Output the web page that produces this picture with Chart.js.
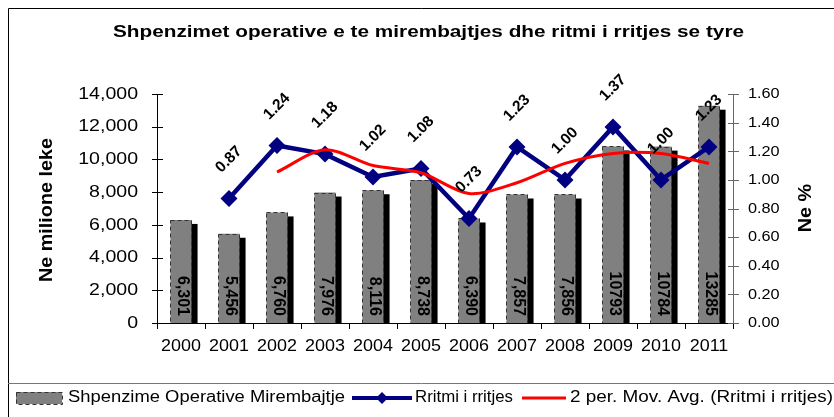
<!DOCTYPE html>
<html>
<head>
<meta charset="utf-8">
<script src="https://cdn.jsdelivr.net/npm/chart.js@4.4.1/dist/chart.umd.min.js"></script>
<style>
  html, body { margin: 0; padding: 0; background: #fff; }
  #wrap { width: 834px; height: 417px; position: relative; }
</style>
</head>
<body>
<div id="wrap"><canvas id="chart" width="834" height="417"></canvas></div>
<script>
(function () {
    "use strict";

    // --- data ---
    const YEARS = ["2000", "2001", "2002", "2003", "2004", "2005", "2006", "2007", "2008", "2009", "2010", "2011"];
    const SPENDING = [6301, 5456, 6760, 7976, 8116, 8738, 6390, 7857, 7856, 10793, 10784, 13285];
    const SPENDING_LABELS = ["6,301", "5,456", "6,760", "7,976", "8,116", "8,738", "6,390", "7,857", "7,856", "10793", "10784", "13285"];
    const GROWTH = [null, 0.87, 1.24, 1.18, 1.02, 1.08, 0.73, 1.23, 1.00, 1.37, 1.00, 1.23];
    const MOV_AVG = [null, null, 1.055, 1.21, 1.10, 1.05, 0.905, 0.98, 1.115, 1.185, 1.185, 1.115];
    const LEFT_MAX = 14000, LEFT_STEP = 2000;
    const RIGHT_MAX = 1.6, RIGHT_STEP = 0.2;

    const TITLE = "Shpenzimet operative e te mirembajtjes dhe ritmi i rritjes se tyre";
    const LEGEND = ["Shpenzime Operative Mirembajtje", "Rritmi i rritjes", "2 per. Mov. Avg. (Rritmi i rritjes)"];

    const FONT = "'Liberation Sans', Arial, sans-serif";
    const NAVY = "#000080";
    const BAR_GRAY = "#808080";

    // text with a horizontal stretch (the reference picture is a bit wide)
    function text(ctx, str, x, y, opts) {
        const o = Object.assign({ size: 15, bold: false, align: "center", sx: 1, width: 0, rot: 0 }, opts);
        ctx.save();
        ctx.font = (o.bold ? "bold " : "") + o.size + "px " + FONT;
        ctx.textAlign = o.align;
        ctx.textBaseline = "middle";
        ctx.fillStyle = "#000";
        let sx = o.sx;
        if (o.width) { sx = o.width / ctx.measureText(str).width; }
        ctx.translate(x, y);
        if (o.rot) { ctx.rotate(o.rot); }
        ctx.scale(sx, 1);
        ctx.fillText(str, 0, 0);
        ctx.restore();
    }

    // black "3d" shadow behind each bar
    const shadowPlugin = {
        id: "shadow",
        beforeDatasetsDraw(chart) {
            const meta = chart.getDatasetMeta(2);
            const ctx = chart.ctx;
            ctx.save();
            ctx.fillStyle = "#000";
            meta.data.forEach(bar => {
                const w = bar.width;
                ctx.fillRect(bar.x - w / 2 + 6, bar.y + 4, w, bar.base - bar.y - 4);
            });
            ctx.restore();
        },
    };

    // dashed outline + vertical value labels on bars, rotated labels on growth points
    const labelsPlugin = {
        id: "labels",
        afterDatasetDraw(chart, args) {
            const ctx = chart.ctx;
            if (args.index !== 2) { return; }
            const meta = chart.getDatasetMeta(2);
            ctx.save();
            ctx.strokeStyle = "#333";
            ctx.lineWidth = 1;
            ctx.setLineDash([4, 3]);
            meta.data.forEach(bar => {
                const w = bar.width;
                ctx.strokeRect(Math.round(bar.x - w / 2) + 0.5, Math.round(bar.y) + 0.5, Math.round(w), Math.round(bar.base - bar.y));
            });
            ctx.restore();
            meta.data.forEach((bar, i) => {
                text(ctx, SPENDING_LABELS[i], bar.x + 1, bar.base - 7,
                    { size: 16, bold: true, align: "right", rot: Math.PI / 2 });
            });
        },
        afterDatasetsDraw(chart) {
            const ctx = chart.ctx;
            const meta = chart.getDatasetMeta(1);
            meta.data.forEach((pt, i) => {
                if (GROWTH[i] == null) { return; }
                text(ctx, GROWTH[i].toFixed(2), pt.x, pt.y - 39,
                    { size: 15.5, bold: true, rot: -Math.PI / 4 });
            });
        },
    };

    // frame, title, axis titles, ticks, tick labels, legend
    const decorPlugin = {
        id: "decor",
        afterDraw(chart) {
            const ctx = chart.ctx;
            const a = chart.chartArea;
            const x = chart.scales.x, y = chart.scales.y, y2 = chart.scales.y2;
            ctx.save();

            // outer frame + legend box
            ctx.strokeStyle = "#000";
            ctx.lineWidth = 1;
            ctx.beginPath();
            ctx.moveTo(840, 8.5); ctx.lineTo(8.5, 8.5); ctx.lineTo(8.5, 420);
            ctx.stroke();
            ctx.strokeStyle = "#777";
            ctx.beginPath();
            ctx.moveTo(8, 383.5); ctx.lineTo(840, 383.5);
            ctx.stroke();

            // title
            text(ctx, TITLE, 113, 32, { size: 17, bold: true, align: "left", width: 631 });

            // axis titles
            text(ctx, "Ne milione leke", 47, 210, { size: 18, bold: true, rot: -Math.PI / 2, sx: 1.1 });
            text(ctx, "Ne %", 806, 208, { size: 18, bold: true, rot: -Math.PI / 2, sx: 1.1 });

            // axis lines and ticks
            ctx.lineWidth = 1;
            ctx.strokeStyle = "#000";
            ctx.beginPath();
            ctx.moveTo(a.left + 0.5, a.top); ctx.lineTo(a.left + 0.5, a.bottom);
            y.ticks.forEach(t => {
                const py = Math.round(y.getPixelForValue(t.value)) + 0.5;
                ctx.moveTo(a.left - 5, py); ctx.lineTo(a.left + 6, py);
            });
            ctx.moveTo(a.left, a.bottom + 0.5); ctx.lineTo(a.right, a.bottom + 0.5);
            ctx.stroke();
            ctx.strokeStyle = "#666";
            ctx.beginPath();
            ctx.moveTo(a.right + 0.5, a.top); ctx.lineTo(a.right + 0.5, a.bottom);
            y2.ticks.forEach(t => {
                const py = Math.round(y2.getPixelForValue(t.value)) + 0.5;
                ctx.moveTo(a.right - 5, py); ctx.lineTo(a.right + 6, py);
            });
            ctx.stroke();

            // tick labels
            y.ticks.forEach(t => {
                text(ctx, t.value.toLocaleString("en-US"), a.left - 19, y.getPixelForValue(t.value),
                    { size: 17, align: "right", sx: 1.15 });
            });
            y2.ticks.forEach(t => {
                text(ctx, t.value.toFixed(2), a.right + 15, y2.getPixelForValue(t.value),
                    { size: 15.5, align: "left", sx: 1.05 });
            });
            YEARS.forEach((lab, i) => {
                text(ctx, lab, x.getPixelForValue(i), 347, { size: 16, sx: 1.12 });
            });

            // legend
            const ly = 398;
            ctx.fillStyle = BAR_GRAY;
            ctx.fillRect(16, ly - 6, 46, 12);
            ctx.strokeStyle = "#333";
            ctx.setLineDash([4, 3]);
            ctx.strokeRect(16.5, ly - 5.5, 46, 12);
            ctx.setLineDash([]);
            text(ctx, LEGEND[0], 68, ly, { size: 16, align: "left", width: 277 });

            ctx.strokeStyle = NAVY;
            ctx.lineWidth = 4;
            ctx.beginPath(); ctx.moveTo(352, ly); ctx.lineTo(412, ly); ctx.stroke();
            ctx.fillStyle = NAVY;
            ctx.beginPath();
            ctx.moveTo(382, ly - 6); ctx.lineTo(388, ly); ctx.lineTo(382, ly + 6); ctx.lineTo(376, ly);
            ctx.closePath(); ctx.fill();
            text(ctx, LEGEND[1], 415, ly, { size: 16, align: "left", width: 98 });

            ctx.strokeStyle = "#ff0000";
            ctx.lineWidth = 3;
            ctx.beginPath(); ctx.moveTo(522, ly); ctx.lineTo(566, ly); ctx.stroke();
            text(ctx, LEGEND[2], 570, ly, { size: 16, align: "left", width: 263 });

            ctx.restore();
        },
    };

    new Chart(document.getElementById("chart"), {
        data: {
            labels: YEARS,
            datasets: [
                {
                    type: "line",
                    label: LEGEND[2],
                    data: MOV_AVG,
                    yAxisID: "y2",
                    borderColor: "#ff0000",
                    borderWidth: 3,
                    pointRadius: 0,
                    tension: 0.3,
                    order: 0,
                },
                {
                    type: "line",
                    label: LEGEND[1],
                    data: GROWTH,
                    yAxisID: "y2",
                    borderColor: NAVY,
                    backgroundColor: NAVY,
                    borderWidth: 4.5,
                    pointStyle: "rectRot",
                    pointRadius: 8.5,
                    pointBorderWidth: 0,
                    tension: 0,
                    order: 1,
                },
                {
                    type: "bar",
                    label: LEGEND[0],
                    data: SPENDING,
                    yAxisID: "y",
                    backgroundColor: BAR_GRAY,
                    borderWidth: 0,
                    categoryPercentage: 1,
                    barPercentage: 0.44,
                    order: 2,
                },
            ],
        },
        options: {
            responsive: false,
            animation: false,
            events: [],
            layout: { padding: { top: 94, left: 0, right: 0, bottom: 0 } },
            plugins: { legend: { display: false }, title: { display: false }, tooltip: { enabled: false } },
            scales: {
                x: {
                    offset: true,
                    grid: { offset: true, drawOnChartArea: false, drawTicks: true, tickLength: 6, color: "#000" },
                    border: { display: false },
                    ticks: { display: false },
                    afterFit(s) { s.height = 94; },
                },
                y: {
                    position: "left",
                    min: 0, max: LEFT_MAX,
                    grid: { display: false },
                    border: { display: false },
                    ticks: { stepSize: LEFT_STEP, display: false },
                    afterFit(s) { s.width = 157; },
                },
                y2: {
                    position: "right",
                    min: 0, max: RIGHT_MAX,
                    grid: { display: false },
                    border: { display: false },
                    ticks: { stepSize: RIGHT_STEP, display: false },
                    afterFit(s) { s.width = 101; },
                },
            },
        },
        plugins: [shadowPlugin, labelsPlugin, decorPlugin],
    });
})();
</script>
</body>
</html>
